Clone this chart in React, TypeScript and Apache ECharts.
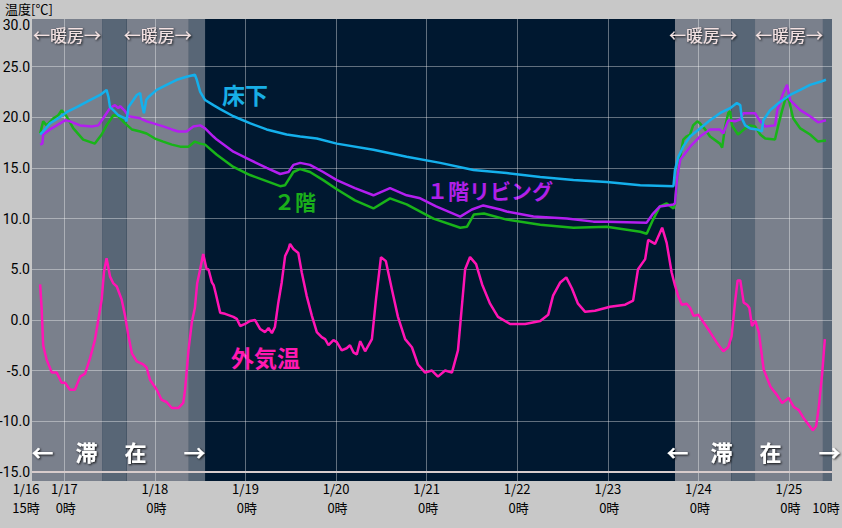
import React, { useEffect, useRef } from "react";
import * as echarts from "echarts";

// hours counted from 1/16 0:00
const X_MIN = 15.44;
const X_MAX = 227.4;
const Y_MIN = -15.9;
const Y_MAX = 29.7;
const Y_TOP_LABEL = "30.0";
const START_LABEL = ["1/16", "15時"];
const END_LABEL = "10時";
const DAY_HOUR_LABEL = " 0時";
const FIRST_DAY = 16;

const heatingBands: [number, number][] = [[X_MIN, 34], [40.5, 57], [185.8, 200.7], [207, 225]];
const idleBands: [number, number][] = [[34, 40.5], [57, 61.3], [200.7, 207], [225, X_MAX]];
const stayPeriods: [number, number][] = [[X_MIN, 61.3], [185.8, X_MAX]];

const outdoor: [number, number][] = [
  [17.6,3.5],[18.0,1.1],[18.4,-2.5],[19.3,-3.9],[20.7,-5.2],[22.0,-5.2],[23.3,-6.2],[24.2,-6.2],[25.5,-6.9],[26.8,-6.9],[28.2,-5.6],[29.5,-5.3],[30.8,-3.8],[32.1,-2.0],[33.0,0.0],[33.9,2.0],[34.5,4.7],[35.2,6.1],[36.1,4.3],[37.0,3.6],[37.9,3.3],[39.2,2.0],[40.1,0.4],[41.0,-1.6],[41.9,-3.3],[43.2,-4.1],[44.9,-4.4],[45.8,-4.7],[46.7,-5.9],[48.5,-6.9],[49.8,-7.9],[51.1,-8.1],[52.5,-8.7],[54.2,-8.7],[55.5,-8.2],[56.0,-6.9],[56.9,-3.0],[57.8,-0.2],[58.6,1.2],[59.2,3.6],[60.0,5.0],[60.8,6.5],[61.7,5.0],[62.2,5.0],[63.1,3.7],[63.6,3.4],[64.0,2.8],[65.3,0.7],[66.6,0.6],[68.8,0.3],[69.7,0.1],[70.6,-0.6],[71.9,-0.4],[73.2,-0.1],[74.5,0.0],[75.9,-0.9],[77.2,-1.2],[78.1,-0.8],[79.0,-1.3],[79.8,-0.7],[80.7,1.7],[81.6,3.7],[82.5,6.3],[83.4,7.0],[83.8,7.5],[84.7,7.0],[86.0,6.6],[86.9,4.7],[88.2,2.4],[89.6,0.4],[90.9,-1.2],[92.2,-1.7],[93.1,-1.9],[94.0,-2.5],[95.3,-2.0],[96.2,-2.2],[97.5,-3.0],[98.8,-2.8],[99.7,-2.5],[100.6,-3.2],[101.5,-3.4],[102.4,-2.1],[103.7,-3.1],[105.5,-1.9],[106.6,2.1],[107.9,6.2],[109.2,5.8],[110.8,3.0],[112.4,0.3],[114.3,-1.9],[116.1,-2.7],[117.7,-4.4],[119.6,-5.2],[121.4,-5.0],[123.0,-5.6],[124.9,-5.0],[126.7,-5.2],[128.3,-3.0],[130.2,5.0],[131.5,6.2],[133.1,5.5],[134.7,3.5],[136.8,1.6],[138.9,0.3],[142.1,-0.4],[146.1,-0.4],[150.1,-0.1],[152.2,0.5],[153.5,2.4],[155.4,3.7],[157.0,4.2],[158.5,3.1],[160.1,1.6],[162.0,0.8],[164.6,0.9],[168.6,1.3],[172.6,1.5],[174.7,1.9],[176.0,5.0],[177.9,6.0],[178.7,7.9],[180.5,7.5],[182.4,9.1],[183.6,7.6],[184.9,4.7],[185.8,3.4],[186.7,2.3],[187.6,1.5],[188.9,1.6],[189.8,1.2],[190.7,0.4],[192.0,0.5],[193.3,-0.2],[195.1,-1.2],[196.8,-2.2],[198.6,-3.1],[199.9,-2.7],[200.8,-1.6],[201.7,1.7],[202.4,3.9],[203.1,3.9],[204.0,1.7],[204.9,1.5],[205.5,1.2],[206.2,-0.6],[207.1,-0.1],[208.0,-1.2],[209.3,-4.9],[211.1,-6.6],[212.8,-7.4],[214.2,-8.2],[215.9,-7.7],[217.3,-8.6],[218.6,-8.9],[219.9,-9.7],[221.3,-10.4],[222.3,-10.9],[223.2,-10.5],[223.9,-8.6],[224.8,-5.3],[225.5,-1.9]
];

const underFloor: [number, number][] = [
  [17.6,18.3],[18.4,18.6],[20.2,19.4],[22.4,19.9],[24.6,20.5],[27.3,21.0],[30.8,21.7],[33.5,22.2],[35.2,22.7],[35.7,22.0],[36.1,21.0],[37.0,20.7],[38.3,20.2],[40.1,19.9],[40.5,19.6],[41.0,21.0],[42.3,21.7],[43.2,22.2],[44.1,22.4],[44.5,21.4],[45.1,20.4],[45.7,21.7],[46.3,22.0],[48.5,22.7],[51.1,23.2],[53.8,23.7],[56.4,24.0],[58.6,24.2],[59.1,23.7],[60.0,22.5],[61.3,21.7],[63.5,21.2],[65.3,20.8],[68.8,20.1],[73.3,19.4],[77.6,18.8],[82.9,18.3],[86.5,18.1],[90.9,17.9],[96.2,17.4],[105.9,16.8],[114.7,16.1],[123.6,15.5],[132.4,14.8],[141.2,14.5],[150.1,14.1],[158.9,13.8],[167.7,13.6],[176.6,13.3],[185.4,13.2],[185.8,14.8],[186.7,16.1],[188.0,17.1],[189.8,18.1],[192.4,18.9],[195.1,19.7],[197.7,20.4],[200.4,20.9],[202.2,21.4],[203.1,21.2],[203.5,19.9],[204.4,19.2],[205.7,18.9],[207.5,18.8],[208.8,18.6],[209.2,19.7],[211.0,20.7],[213.6,21.5],[216.3,22.2],[219.0,22.7],[221.6,23.2],[224.3,23.5],[225.8,23.7]
];

const living1F: [number, number][] = [
  [17.6,17.3],[18.2,17.4],[18.4,18.3],[20.2,18.8],[22.0,19.2],[24.2,19.7],[25.5,19.6],[28.2,19.2],[31.3,19.1],[33.0,19.2],[34.3,19.9],[36.1,20.9],[37.4,21.2],[38.3,20.9],[38.8,21.1],[40.1,20.6],[41.0,20.1],[44.1,19.9],[45.8,19.6],[47.6,19.4],[50.2,19.1],[52.5,18.8],[54.2,18.6],[56.4,18.6],[58.2,19.1],[60.0,19.2],[61.3,18.9],[63.5,18.1],[64.4,17.8],[68.8,16.6],[73.2,15.8],[77.6,15.0],[81.2,14.4],[83.4,14.6],[84.7,15.3],[86.5,15.5],[89.1,15.3],[92.6,14.6],[96.2,13.8],[101.0,13.0],[105.9,12.3],[110.3,13.0],[114.7,12.3],[118.3,12.0],[122.5,11.2],[128.9,10.2],[132.0,10.9],[135.0,11.3],[139.5,10.9],[141.2,10.7],[148.3,10.2],[157.1,10.0],[164.2,9.7],[167.7,9.7],[178.3,9.6],[180.0,10.5],[181.8,11.2],[185.4,11.4],[185.8,11.5],[186.4,14.1],[187.2,15.8],[189.8,17.1],[192.4,18.1],[195.1,18.8],[197.7,18.8],[198.6,18.4],[199.9,19.7],[201.7,19.6],[203.1,19.8],[203.9,20.4],[207.0,20.4],[208.4,19.6],[209.7,19.1],[212.3,19.2],[212.9,20.7],[214.5,22.4],[215.5,23.2],[216.3,21.7],[219.0,20.7],[221.6,20.1],[223.7,19.5],[225.8,19.7]
];

const floor2: [number, number][] = [
  [17.6,18.4],[18.4,19.6],[19.3,19.2],[21.1,19.9],[22.4,20.2],[23.3,20.7],[24.6,20.1],[26.4,18.9],[29.0,17.8],[32.1,17.4],[33.9,18.3],[35.2,19.2],[37.0,20.2],[38.3,20.1],[40.1,19.4],[41.9,18.8],[44.1,18.6],[45.8,18.4],[48.0,17.9],[50.2,17.6],[52.5,17.3],[54.7,17.1],[56.9,17.1],[58.6,17.6],[60.0,17.4],[61.3,17.3],[64.4,16.3],[68.8,15.1],[73.2,14.3],[77.6,13.7],[81.2,13.2],[82.5,13.3],[84.7,14.6],[86.5,14.9],[89.1,14.6],[92.6,13.8],[96.2,12.9],[101.0,11.8],[105.9,11.0],[110.3,12.0],[114.7,11.4],[121.8,10.0],[128.9,9.1],[130.7,9.2],[132.5,10.4],[135.2,10.5],[141.2,9.9],[150.1,9.4],[158.9,9.1],[167.7,9.2],[176.6,8.7],[178.3,8.5],[180.0,9.9],[181.8,11.2],[183.6,11.5],[185.4,11.0],[185.8,11.4],[186.4,14.1],[187.2,16.1],[188.0,17.8],[188.8,18.1],[189.8,18.3],[190.6,19.2],[191.7,19.6],[192.4,19.4],[193.8,18.8],[195.1,18.1],[197.7,17.4],[198.3,17.0],[199.1,19.1],[199.9,20.4],[200.4,20.6],[200.9,19.2],[202.5,18.3],[204.4,18.9],[205.7,19.2],[207.0,19.1],[208.4,18.3],[209.7,17.9],[212.3,17.8],[213.1,19.1],[214.2,20.7],[215.2,22.0],[216.0,21.7],[217.1,19.9],[219.0,18.9],[221.6,18.3],[223.7,17.6],[225.8,17.7]
];

const FONT = '"Noto Sans CJK JP", "Noto Sans", sans-serif';
const NARROW = '"Liberation Sans Narrow", "Roboto", "Noto Sans CJK JP", sans-serif';

export default function App() {
  const ref = useRef<HTMLDivElement>(null);
  useEffect(() => {
    if (!ref.current) return;
    const chart = echarts.init(ref.current, null, { renderer: "svg" });

    const bandAreas: any[] = [];
    heatingBands.forEach(([a, b]) =>
      bandAreas.push([
        { name: "←暖房→", xAxis: a, itemStyle: { color: "#7a808c" } },
        { xAxis: b },
      ])
    );
    idleBands.forEach(([a, b]) =>
      bandAreas.push([
        { name: "", xAxis: a, itemStyle: { color: "#586676" } },
        { xAxis: b },
      ])
    );
    stayPeriods.forEach(([a, b]) =>
      bandAreas.push([
        {
          name: "←　滞　 在　   →",
          xAxis: a,
          itemStyle: { color: "rgba(0,0,0,0)" },
          label: {
            position: "insideBottom",
            distance: 19,
            fontSize: 22,
            color: "#ffffff",
            fontWeight: "bold",
          },
        },
        { xAxis: b },
      ])
    );

    const lineSeries = (name: string, data: [number, number][], color: string) => ({
      name,
      type: "line",
      data,
      showSymbol: false,
      symbol: "none",
      silent: true,
      z: 3,
      lineStyle: { color, width: 2.5 },
      itemStyle: { color },
    });

    const baseX = {
      type: "value",
      min: X_MIN,
      max: X_MAX,
      minInterval: 24,
      maxInterval: 24,
      z: 2,
      axisLine: { show: false },
      axisTick: { show: false },
    };
    const labelFont = { fontFamily: FONT, fontSize: 13, color: "#000" };

    const option: any = {
      animation: false,
      backgroundColor: "#c8c8c8",
      title: {
        text: "温度[℃]",
        left: 5,
        top: 2,
        padding: 0,
        textStyle: { fontFamily: FONT, fontSize: 13, fontWeight: "normal", color: "#000" },
      },
      grid: {
        left: 32,
        right: 10,
        top: 19,
        bottom: 47,
        show: true,
        backgroundColor: "#001830",
        borderWidth: 0,
        containLabel: false,
        outerBoundsMode: "none",
      },
      xAxis: [
        {
          ...baseX,
          splitLine: {
            show: true,
            showMinLine: false,
            showMaxLine: false,
            lineStyle: { color: "rgba(255,255,255,0.38)", width: 1 },
          },
          axisLabel: {
            showMinLabel: false,
            showMaxLabel: false,
            margin: 1,
            ...labelFont,
            formatter: (v: number) => {
              if (v < 20 || v > 220) return "";
              return `1/${FIRST_DAY + Math.round(v / 24)}`;
            },
          },
        },
        {
          ...baseX,
          position: "bottom",
          splitLine: { show: false },
          axisLabel: {
            showMinLabel: false,
            showMaxLabel: false,
            margin: 20,
            ...labelFont,
            formatter: (v: number) => (v < 20 || v > 220 ? "" : DAY_HOUR_LABEL),
          },
        },
      ],
      yAxis: {
        type: "value",
        min: Y_MIN,
        max: Y_MAX,
        minInterval: 5,
        maxInterval: 5,
        z: 2,
        axisLine: { show: false },
        axisTick: { show: false },
        splitLine: {
          show: true,
          showMinLine: false,
          showMaxLine: false,
          lineStyle: { color: "rgba(255,255,255,0.38)", width: 1 },
        },
        axisLabel: {
          showMinLabel: false,
          showMaxLabel: false,
          margin: 2,
          color: "#000",
          fontFamily: NARROW,
          fontSize: 14,
          formatter: (v: number) => {
            if (v > Y_MAX - 0.01 || v < -15.5) return "";
            return v.toFixed(1);
          },
        },
      },
      graphic: [
        { type: "text", silent: true, style: { x: 30, y: 25, text: Y_TOP_LABEL, textAlign: "right", textVerticalAlign: "middle", fill: "#000", font: `14px ${NARROW}` } },
        { type: "text", silent: true, style: { x: 26, y: 482, text: START_LABEL[0], textAlign: "center", textVerticalAlign: "top", fill: "#000", font: `13px ${FONT}` } },
        { type: "text", silent: true, style: { x: 26, y: 501, text: START_LABEL[1], textAlign: "center", textVerticalAlign: "top", fill: "#000", font: `13px ${FONT}` } },
        { type: "text", silent: true, style: { x: 826, y: 501, text: END_LABEL, textAlign: "center", textVerticalAlign: "top", fill: "#000", font: `13px ${FONT}` } },
        { type: "rect", silent: true, shape: { x: 33, y: 473, width: 6, height: 7 }, style: { fill: "#d4d4d4" } },
        { type: "text", silent: true, style: { x: 36, y: 476, text: "B", textAlign: "center", textVerticalAlign: "middle", fill: "#888", font: `5px ${NARROW}` } },
        { type: "rect", silent: true, shape: { x: 826, y: 473, width: 6, height: 7 }, style: { fill: "#d4d4d4" } },
        { type: "text", silent: true, style: { x: 829, y: 476, text: "B", textAlign: "center", textVerticalAlign: "middle", fill: "#888", font: `5px ${NARROW}` } },
        { type: "text", left: 222, top: 82, silent: true, style: { text: "床下", fill: "#18aee6", font: `bold 23px ${FONT}` } },
        { type: "text", left: 274, top: 190, silent: true, style: { text: "２階", fill: "#1aae1a", font: `bold 21px ${FONT}` } },
        { type: "text", left: 427, top: 179, silent: true, style: { text: "１階リビング", fill: "#b020e8", font: `bold 21px ${FONT}` } },
        { type: "text", left: 231, top: 345, silent: true, style: { text: "外気温", fill: "#ff18b0", font: `bold 23px ${FONT}` } },
      ],
      series: [
        {
          name: "bands",
          type: "line",
          data: [],
          z: 1,
          silent: true,
          markArea: {
            silent: true,
            label: {
              show: true,
              position: "insideTop",
              distance: 7,
              fontFamily: FONT,
              fontSize: 17,
              color: "#f4e2e2",
              textShadowColor: "rgba(0,0,0,0.9)",
              textShadowBlur: 2,
              textShadowOffsetX: 1,
              textShadowOffsetY: 1,
            },
            data: bandAreas,
          },
          markLine: {
            silent: true,
            symbol: ["none", "none"],
            label: { show: false },
            lineStyle: { color: "#d8cccc", width: 2, type: "solid" },
            data: [{ yAxis: -15 }],
          },
        },
        lineSeries("外気温", outdoor, "#ff14b4"),
        lineSeries("２階", floor2, "#19b419"),
        lineSeries("１階リビング", living1F, "#b41ef0"),
        lineSeries("床下", underFloor, "#14b0ec"),
      ],
    };
    chart.setOption(option);
    return () => chart.dispose();
  }, []);
  return <div ref={ref} style={{ position: "fixed", left: 0, top: 0, width: 842, height: 528 }} />;
}
